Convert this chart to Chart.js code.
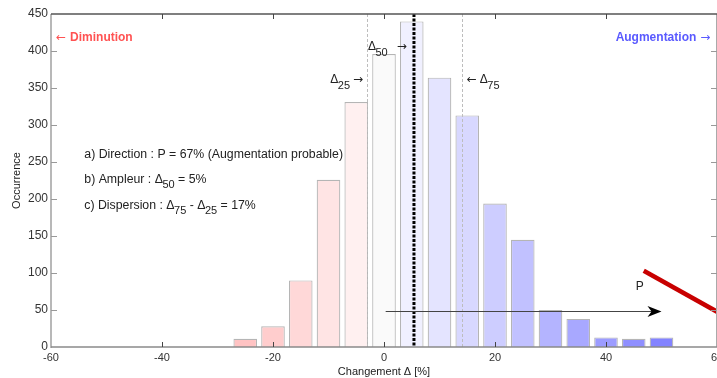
<!DOCTYPE html>
<html><head><meta charset="utf-8">
<script src="https://cdn.jsdelivr.net/npm/chart.js@4/dist/chart.umd.min.js"></script>
<style>
html,body{margin:0;padding:0;background:#fff;overflow:hidden;width:717px;height:378px}
#wrap{width:760px;height:378px}
</style></head>
<body><div id="wrap"><canvas id="c" width="760" height="378"></canvas></div>
<script>
// ---- data ----
const binCenters = [-25,-20,-15,-10,-5,0,5,10,15,20,25,30,35,40,45,50];
const occurrences = [11,28,90,226,331,396,440,364,313,194,145,50,38,13,11,13];
const xTickValues = [-60,-40,-20,0,20,40,60];
const yTickValues = [0,50,100,150,200,250,300,350,400,450];
const quartileValues = [-3, 5.4, 14];      // Δ25, Δ50 (line), Δ75
const trendX = [46.8, 60];
const trendY = [103, 47.7];
const arrowX = [0.3, 50];
const arrowY = [48.6, 48.6];

// ---- styles ----
const barColors = ['#ffc3c3','#ffcdcd','#ffd8d8','#ffe4e4','#fff0f0','#fafafa','#f0f0ff','#e4e4ff','#d8d8ff','#cdcdff','#c1c1ff','#b4b4ff','#a8a8ff','#9c9cff','#8f8fff','#8383ff'];
const FONT = '"Liberation Sans", Arial, sans-serif';
const AFONT = '"DejaVu Sans", sans-serif';

function subText(ctx, x, y, main, sub, size, subSize, drop){
  ctx.font = size + 'px ' + FONT;
  ctx.fillText(main, x, y);
  let w = ctx.measureText(main).width;
  ctx.font = subSize + 'px ' + FONT;
  ctx.fillText(sub, x + w - 0.5, y + drop);
  return w - 0.5 + ctx.measureText(sub).width;
}
function arrowGlyph(ctx, ch, x, y, size){
  ctx.font = size + 'px ' + AFONT;
  ctx.fillText(ch, x, y);
  return ctx.measureText(ch).width;
}

const overlay = {
  id: 'overlay',
  afterDatasetsDraw(chart){
    const {ctx, chartArea:a, scales:{x, y}} = chart;
    ctx.save();
    ctx.lineWidth = 1; ctx.strokeStyle = '#bdbdbd'; ctx.setLineDash([3,2]);
    [quartileValues[0], quartileValues[2]].forEach(v => {
      const px = Math.round(x.getPixelForValue(v)) + 0.5;
      ctx.beginPath(); ctx.moveTo(px, a.top); ctx.lineTo(px, a.bottom); ctx.stroke();
    });
    ctx.lineWidth = 3; ctx.strokeStyle = '#000'; ctx.setLineDash([3,1.5]);
    const mp = x.getPixelForValue(quartileValues[1]);
    ctx.beginPath(); ctx.moveTo(mp, a.top); ctx.lineTo(mp, a.bottom); ctx.stroke();
    ctx.setLineDash([]);
    const ax0 = x.getPixelForValue(arrowX[0]), ax1 = x.getPixelForValue(arrowX[1]);
    const ay = Math.round(y.getPixelForValue(arrowY[0])) + 0.5;
    ctx.lineWidth = 1; ctx.strokeStyle = '#444';
    ctx.beginPath(); ctx.moveTo(ax0, ay); ctx.lineTo(ax1 - 8, ay); ctx.stroke();
    ctx.fillStyle = '#000';
    ctx.beginPath();
    ctx.moveTo(ax1, ay); ctx.lineTo(ax1 - 14, ay - 5.5); ctx.lineTo(ax1 - 10, ay);
    ctx.lineTo(ax1 - 14, ay + 5.5); ctx.closePath(); ctx.fill();
    ctx.restore();
  },
  afterDraw(chart){
    const {ctx, chartArea:a, scales:{x, y}} = chart;
    ctx.save();
    // frame
    ctx.lineWidth = 2; ctx.strokeStyle = '#b8b8b8';
    ctx.beginPath(); ctx.moveTo(a.left, a.top); ctx.lineTo(a.left, a.bottom + 1); ctx.stroke();
    ctx.lineWidth = 1; ctx.strokeStyle = '#aaa';
    ctx.beginPath(); ctx.moveTo(a.right - 0.5, a.top); ctx.lineTo(a.right - 0.5, a.bottom); ctx.stroke();
    ctx.lineWidth = 1.5; ctx.strokeStyle = '#555';
    ctx.beginPath(); ctx.moveTo(a.left, a.top); ctx.lineTo(a.right, a.top); ctx.stroke();
    ctx.strokeStyle = '#8a8a8a';
    ctx.beginPath(); ctx.moveTo(a.left, a.bottom); ctx.lineTo(a.right, a.bottom); ctx.stroke();
    ctx.lineWidth = 1; ctx.strokeStyle = '#999';
    yTickValues.forEach(v => {
      if (v === 0 || v === 450) return;
      const py = Math.round(y.getPixelForValue(v)) + 0.5;
      ctx.beginPath(); ctx.moveTo(a.left, py); ctx.lineTo(a.left + 6, py);
      ctx.moveTo(a.right, py); ctx.lineTo(a.right - 6, py); ctx.stroke();
    });
    ctx.strokeStyle = '#444';
    xTickValues.forEach(v => {
      if (v === -60 || v === 60) return;
      const px = Math.round(x.getPixelForValue(v)) + 0.5;
      ctx.beginPath(); ctx.moveTo(px, a.bottom); ctx.lineTo(px, a.bottom - 5);
      ctx.moveTo(px, a.top); ctx.lineTo(px, a.top + 5); ctx.stroke();
    });
    // axis titles
    ctx.fillStyle = '#222'; ctx.textBaseline = 'middle';
    ctx.font = '11px ' + FONT; ctx.textAlign = 'center';
    ctx.fillText('Changement Δ [%]', (a.left + a.right) / 2, 372);
    ctx.save(); ctx.translate(17, (a.top + a.bottom) / 2); ctx.rotate(-Math.PI / 2);
    ctx.fillText('Occurrence', 0, 0); ctx.restore();
    // direction labels
    ctx.textAlign = 'left'; ctx.fillStyle = '#ff5252';
    let dx = x.getPixelForValue(-59.1), dy = y.getPixelForValue(418);
    dx += arrowGlyph(ctx, '\u2190', dx, dy, 12) + 4;
    ctx.font = 'bold 12px ' + FONT; ctx.fillText('Diminution', dx, dy);
    ctx.fillStyle = '#5a5aff';
    ctx.font = 'bold 12px ' + FONT;
    const augW = ctx.measureText('Augmentation').width;
    ctx.font = '12px ' + AFONT;
    const arW = ctx.measureText('\u2192').width;
    let ex = x.getPixelForValue(58.8) - arW - 4 - augW;
    ctx.font = 'bold 12px ' + FONT; ctx.fillText('Augmentation', ex, dy);
    arrowGlyph(ctx, '\u2192', ex + augW + 4, dy, 12);
    // summary texts
    ctx.fillStyle = '#222';
    const tx = x.getPixelForValue(-54);
    ctx.font = '12.3px ' + FONT;
    ctx.fillText('a) Direction : P = 67% (Augmentation probable)', tx, y.getPixelForValue(260));
    let yy = y.getPixelForValue(226);
    let s = 'b) Ampleur : ';
    ctx.fillText(s, tx, yy);
    let cx = tx + ctx.measureText(s).width;
    cx += subText(ctx, cx, yy, 'Δ', '50', 12.3, 11, 5);
    ctx.font = '12.3px ' + FONT; ctx.fillText(' = 5%', cx, yy);
    yy = y.getPixelForValue(191);
    s = 'c) Dispersion : ';
    ctx.fillText(s, tx, yy);
    cx = tx + ctx.measureText(s).width;
    cx += subText(ctx, cx, yy, 'Δ', '75', 12.3, 11, 5);
    ctx.font = '12.3px ' + FONT; ctx.fillText(' - ', cx, yy); cx += ctx.measureText(' - ').width;
    cx += subText(ctx, cx, yy, 'Δ', '25', 12.3, 11, 5);
    ctx.font = '12.3px ' + FONT; ctx.fillText(' = 17%', cx, yy);
    // quartile labels
    const q25 = x.getPixelForValue(quartileValues[0]);
    const q50 = x.getPixelForValue(quartileValues[1]);
    const q75 = x.getPixelForValue(quartileValues[2]);
    const r1 = y.getPixelForValue(406), r2 = y.getPixelForValue(361);
    ctx.fillStyle = '#222';
    cx = q50 - 46;
    cx += subText(ctx, cx, r1, 'Δ', '50', 12, 11, 6);
    arrowGlyph(ctx, '\u2192', cx + 9, r1, 12);
    cx = q25 - 37;
    cx += subText(ctx, cx, r2, 'Δ', '25', 12, 11, 6);
    arrowGlyph(ctx, '\u2192', cx + 3, r2, 12);
    cx = q75 + 5;
    cx += arrowGlyph(ctx, '\u2190', cx, r2, 12) + 3;
    subText(ctx, cx, r2, 'Δ', '75', 12, 11, 6);
    ctx.font = '12px ' + FONT; ctx.textAlign = 'center';
    ctx.fillText('P', x.getPixelForValue(46.1), y.getPixelForValue(81));
    ctx.restore();
  }
};

new Chart(document.getElementById('c'), {
  type: 'bar',
  data: {
    datasets: [
      {
        type: 'bar',
        data: binCenters.map((c, i) => ({x: c, y: occurrences[i]})),
        backgroundColor: barColors,
        borderColor: 'rgba(90,90,90,0.45)',
        borderWidth: 1.2,
        borderSkipped: 'bottom',
        barPercentage: 0.85,
        categoryPercentage: 1,
        order: 2
      },
      {
        type: 'line',
        data: trendX.map((v, i) => ({x: v, y: trendY[i]})),
        borderColor: '#c80000',
        borderWidth: 4.5,
        pointRadius: 0,
        fill: false,
        order: 1
      }
    ]
  },
  options: {
    responsive: false,
    animation: false,
    devicePixelRatio: 1,
    layout: {padding: {top: 14, right: 43, left: 0, bottom: 0}},
    plugins: {legend: {display: false}, tooltip: {enabled: false}},
    scales: {
      x: {
        type: 'linear', min: -60, max: 60, offset: false,
        afterBuildTicks: s => { s.ticks = xTickValues.map(v => ({value: v})); },
        afterFit: s => { s.height = 31; },
        grid: {display: false, drawTicks: false, offset: false},
        border: {display: false},
        ticks: {color: '#333', padding: 4, maxRotation: 0, font: {family: FONT, size: 11}}
      },
      y: {
        type: 'linear', min: 0, max: 450,
        afterBuildTicks: s => { s.ticks = yTickValues.map(v => ({value: v})); },
        afterFit: s => { s.width = 51; },
        grid: {display: false, drawTicks: false},
        border: {display: false},
        ticks: {color: '#333', padding: 3, font: {family: FONT, size: 12}}
      }
    }
  },
  plugins: [overlay]
});
</script>
</body></html>
